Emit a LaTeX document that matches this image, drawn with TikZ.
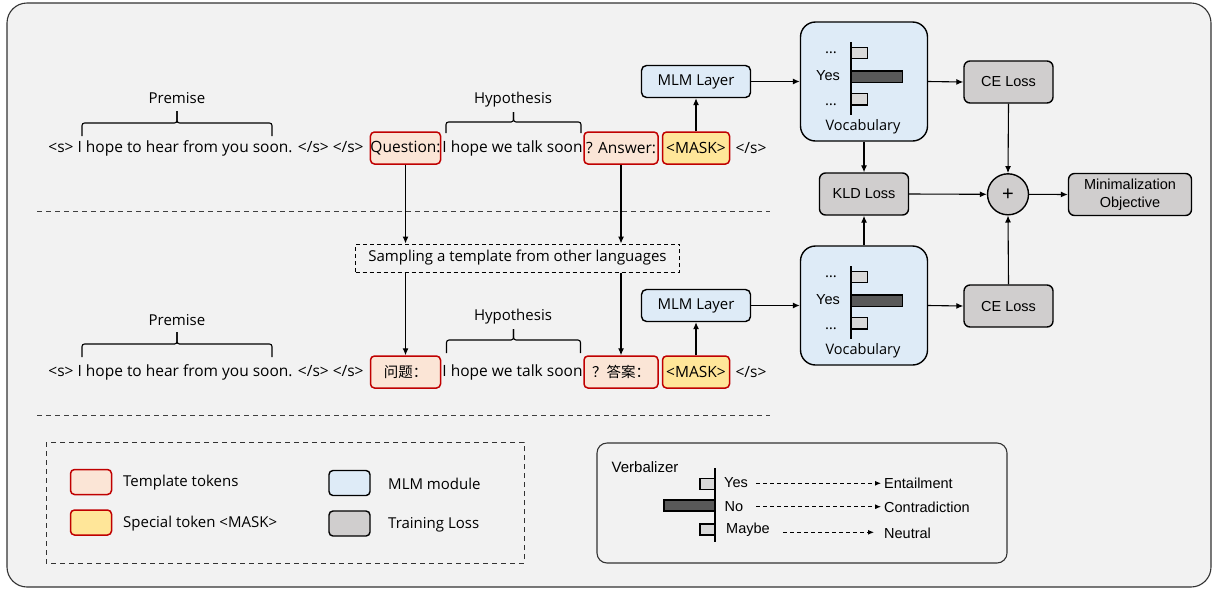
\documentclass[tikz,border=0pt]{standalone}
\usepackage{fontspec}
\setmainfont{Open Sans}
\newfontfamily\arialf{Liberation Sans}
\newfontfamily\cjk{Noto Sans CJK SC}
\usetikzlibrary{arrows.meta}
\definecolor{bgc}{HTML}{F2F2F2}
\definecolor{tred}{HTML}{C00000}
\definecolor{tpeach}{HTML}{FBE5D6}
\definecolor{tyellow}{HTML}{FFE699}
\definecolor{tblue}{HTML}{DEEBF7}
\definecolor{lgray}{HTML}{D0CECE}
\definecolor{dbar}{HTML}{595959}
\definecolor{lbar}{HTML}{D9D9D9}
\newcommand\fs[1]{\fontsize{#1}{#1}\selectfont}
\newcommand\mybrc[5]{%
  \draw[line width=1.1, rounded corners=2.5] (#1,#3) |- ({(#1+#2)/2},#4) -- ({(#1+#2)/2},#5);
  \draw[line width=1.1, rounded corners=2.5] (#2,#3) |- ({(#1+#2)/2},#4) -- ({(#1+#2)/2},#5);}
\begin{document}
\begin{tikzpicture}[x=1pt,y=-1pt,
  txt/.style={inner sep=0, font=\fs{15.5}},
  lbl/.style={inner sep=0, font=\fs{15}},
  tmpl/.style={draw=tred, fill=tpeach, line width=1.5, rounded corners=4, inner sep=0, minimum height=32, font=\fs{15.5}},
  maskbox/.style={tmpl, fill=tyellow},
  mlm/.style={draw=black, fill=tblue, line width=1.4, rounded corners=5, inner sep=0, minimum width=109, minimum height=32, font=\fs{15}},
  vocab/.style={draw=black, fill=tblue, line width=1.4, rounded corners=15, inner sep=0, minimum width=127, minimum height=119},
  loss/.style={draw=black, fill=lgray, line width=1.4, rounded corners=6, inner sep=0, minimum width=89, minimum height=42, font=\arialf\fontsize{14.5}{18}\selectfont, align=center},
  arr/.style={-{Latex[length=7pt,width=6pt]}, line width=1.1},
  darr/.style={-{Latex[length=6pt,width=5pt]}, line width=0.9, dash pattern=on 4pt off 3pt},
  sep/.style={line width=1, draw=black!75, dash pattern=on 5pt off 4pt},
  ar/.style={inner sep=0, font=\arialf\fs{14.5}},
  dots/.style={inner sep=0, font=\fs{15}, anchor=base}
]
\useasboundingbox (0,0) rectangle (1214,590);
\fill[white] (0,0) rectangle (1214,590);
\draw[fill=bgc, draw=black!80, line width=1.1, rounded corners=20] (7,3) rectangle (1211,587);

% ---------- top row ----------
\node[lbl] (prem1) at (177,98) {Premise};
\mybrc{82}{272}{136}{123}{111}
\node[lbl] (hyp1) at (513,100) {Hypothesis};
\mybrc{446}{581}{133}{122}{112}
\node[txt] (s1) at (206,148) {<s> I hope to hear from you soon. </s> </s>};
\node[tmpl, minimum width=69] (q1) at (405.5,148) {Question:};
\node[txt] (h1) at (512.5,148) {I hope we talk soon};
\node[tmpl, minimum width=74] (a1) at (621,148) {? Answer:};
\node[maskbox, minimum width=67] (m1) at (696,148) {<MASK>};
\node[txt] (e1) at (751,148) {</s>};
\node[mlm] (mlm1) at (696,81.5) {MLM Layer};
\node[vocab] (v1) at (864,81.5) {};
\draw[fill=lbar, line width=1.1] (851,47.7) rectangle (867.3,58.7);
\draw[fill=dbar, line width=1.1] (851,71) rectangle (902.3,82.7);
\draw[fill=lbar, line width=1.1] (851,93.7) rectangle (867.3,105);
\draw[line width=1.6] (851,42) -- (851,115);
\node[dots] (d1a) at (831,53) {…};
\node[ar] (y1) at (828,76) {Yes};
\node[dots] (d1b) at (831,105) {…};
\node[lbl, font=\fs{14.5}] (voc1) at (863,127) {Vocabulary};
\node[loss] (ce1) at (1008.5,82) {CE Loss};

% ---------- middle ----------
\node[loss] (kld) at (864,194) {KLD Loss};
\node[circle, draw=black, fill=lgray, line width=1.4, minimum size=41, inner sep=0, font=\arialf\fs{20}] (plus) at (1008,194.3) {+};
\node[loss, minimum width=123] (obj) at (1130,194.5) {Minimalization\\Objective};
\draw[sep] (37,211) -- (770,211);
\node[draw=black, line width=1, dash pattern=on 4pt off 3pt, inner sep=0, minimum width=324, minimum height=28, font=\fs{15}] (samp) at (517.5,258) {Sampling a template from other languages};

% ---------- bottom row ----------
\node[lbl] (prem2) at (177,320) {Premise};
\mybrc{82}{272}{357}{344}{332}
\node[lbl] (hyp2) at (513,317) {Hypothesis};
\mybrc{446.5}{580.5}{353}{340}{329}
\node[txt] (s2) at (206,372) {<s> I hope to hear from you soon. </s> </s>};
\node[tmpl, minimum width=70, font=\cjk\fs{14.5}] (q2) at (405.5,372) {问题：};
\node[txt] (h2) at (512.5,372) {I hope we talk soon};
\node[tmpl, minimum width=74, font=\cjk\fs{14.5}] (a2) at (621,372) {？答案：};
\node[maskbox, minimum width=67] (m2) at (696,372) {<MASK>};
\node[txt] (e2) at (751,372) {</s>};
\node[mlm] (mlm2) at (696,305.5) {MLM Layer};
\node[vocab] (v2) at (864,305.5) {};
\begin{scope}[shift={(0,224)}]
\draw[fill=lbar, line width=1.1] (851,47.7) rectangle (867.3,58.7);
\draw[fill=dbar, line width=1.1] (851,71) rectangle (902.3,82.7);
\draw[fill=lbar, line width=1.1] (851,93.7) rectangle (867.3,105);
\draw[line width=1.6] (851,42) -- (851,115);
\node[dots] (d2a) at (831,53) {…};
\node[ar] (y2) at (828,76) {Yes};
\node[dots] (d2b) at (831,105) {…};
\node[lbl, font=\fs{14.5}] (voc2) at (863,127) {Vocabulary};
\end{scope}
\node[loss] (ce2) at (1008.5,306) {CE Loss};
\draw[sep] (37,415) -- (770,415);

% ---------- connectors ----------
\draw[arr] (m1.north) -- (mlm1.south);
\draw[arr] (mlm1.east) -- (v1.west);
\draw[arr] (v1.east) -- (ce1.west);
\draw[arr] (v1.south) -- (kld.north);
\draw[arr] (kld.east) -- (plus.west);
\draw[arr] (ce1.south) -- (plus.north);
\draw[arr] (plus.east) -- (obj.west);
\draw[arr] (q1.south) -- (q1.south |- samp.north);
\draw[arr] (a1.south) -- (a1.south |- samp.north);
\draw[arr] (q2.north |- samp.south) -- (q2.north);
\draw[arr] (a2.north |- samp.south) -- (a2.north);
\draw[arr] (m2.north) -- (mlm2.south);
\draw[arr] (mlm2.east) -- (v2.west);
\draw[arr] (v2.east) -- (ce2.west);
\draw[arr] (v2.north) -- (kld.south);
\draw[arr] (ce2.north) -- (plus.south);

% ---------- legend ----------
\draw[line width=1, draw=black!80, dash pattern=on 5pt off 4pt] (46,442) rectangle (524,563);
\node[tmpl, minimum width=41, minimum height=25] (lg1) at (91,482) {};
\node[lbl, anchor=west] (lt1) at (123,482.5) {Template tokens};
\node[maskbox, minimum width=41, minimum height=25] (lg2) at (91,522.5) {};
\node[lbl, anchor=west] (lt2) at (123,524) {Special token <MASK>};
\node[draw=black, fill=tblue, line width=1.4, rounded corners=4, minimum width=41, minimum height=25, inner sep=0] (lg3) at (349.5,483) {};
\node[lbl, anchor=west] (lt3) at (388,484) {MLM module};
\node[draw=black, fill=lgray, line width=1.4, rounded corners=4, minimum width=41, minimum height=25, inner sep=0] (lg4) at (349.5,523.5) {};
\node[lbl, anchor=west] (lt4) at (388,525) {Training Loss};

% ---------- verbalizer ----------
\draw[line width=1.1, draw=black!80, rounded corners=10] (597,443) rectangle (1007,563);
\node[ar, anchor=west, font=\arialf\fs{15}] (vb) at (611.5,466.7) {Verbalizer};
\draw[fill=lbar, line width=1.1] (700,478.3) rectangle (715,489.3);
\draw[fill=dbar, line width=1.1] (664,500) rectangle (715,511);
\draw[fill=lbar, line width=1.1] (700,524) rectangle (715,535);
\draw[line width=1.6] (715,468.3) -- (715,541.7);
\node[ar, anchor=west] (vy) at (724,482.3) {Yes};
\node[ar, anchor=west] (vn) at (724.5,506.7) {No};
\node[ar, anchor=west] (vm) at (726,530) {Maybe};
\node[ar, anchor=west] (ve) at (884,483) {Entailment};
\node[ar, anchor=west] (vc) at (884,507) {Contradiction};
\node[ar, anchor=west] (vt) at (884,533.3) {Neutral};
\coordinate (cy) at (756,483.3);
\coordinate (cn) at (756,506.7);
\coordinate (cm) at (783,532.3);
\draw[darr] (cy) -- ([xshift=-3pt]cy -| ve.west);
\draw[darr] (cn) -- ([xshift=-3pt]cn -| vc.west);
\draw[darr] (cm) -- ([xshift=-10pt]cm -| vt.west);
\end{tikzpicture}
\end{document}
